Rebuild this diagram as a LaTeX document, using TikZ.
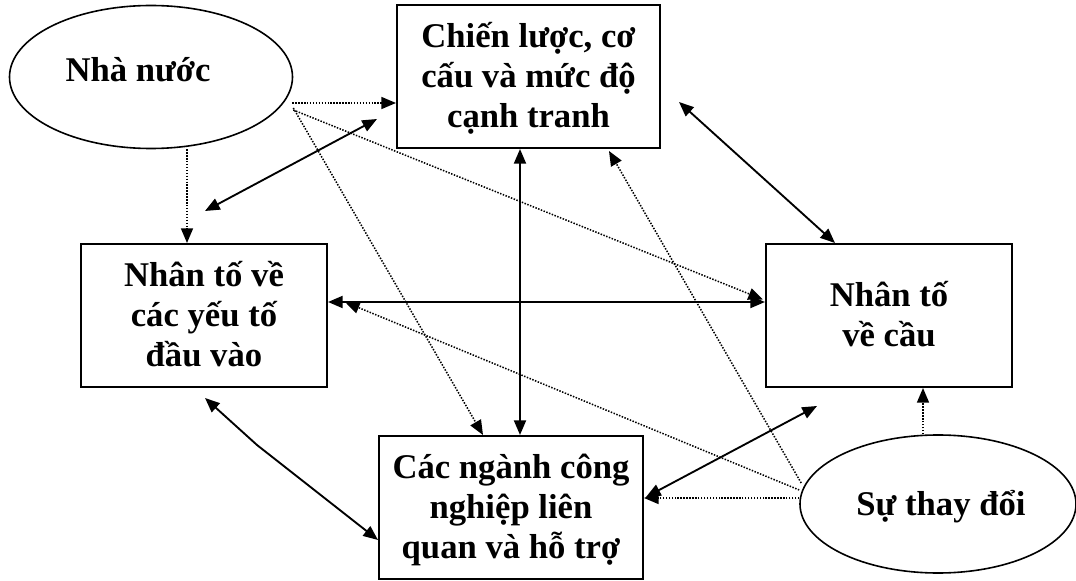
\documentclass[tikz,border=0pt]{standalone}
\usepackage{fontspec}
\setmainfont{Liberation Serif}
\usetikzlibrary{arrows.meta,shapes.geometric}

\begin{document}
\begin{tikzpicture}[
  x=0.75pt, y=-0.75pt,
  headtip/.tip={Triangle[length=11pt, width=9pt]},
  txt/.style={font=\fontsize{26}{30}\selectfont\bfseries, align=center},
  factor/.style={txt, draw, line width=1.5pt, inner sep=0pt, fill=white,
    minimum height=107.25pt, text depth=0pt},
  twolines/.style={text height=47.2pt},
  threelines/.style={text height=77.2pt},
  oval/.style={draw, ellipse, line width=1.2pt, inner sep=0pt},
  link/.style={line width=1.4pt, {headtip}-{headtip}},
  dot/.style={line width=1.15pt, dash pattern=on 1.1pt off 1.1pt, -{headtip}},
]
\useasboundingbox (0,0) rectangle (1076,581);

% actors outside the diamond
\node[oval, minimum width=212.25pt, minimum height=107.25pt] (nn) at (151,77) {};
\node[txt, anchor=base] (nnt) at (138,82) {Nhà nước};
\node[oval, minimum width=207pt, minimum height=103.5pt] (td) at (938,504) {};
\node[txt, anchor=base] (tdt) at (941,515) {Sự thay đổi};

% the four determinants
\node[factor, threelines, minimum width=197.25pt] (cl) at (528.5,76.5)
  {Chiến lược, cơ\\cấu và mức độ\\cạnh tranh};
\node[factor, threelines, minimum width=184.5pt] (dv) at (204,315.5)
  {Nhân tố về\\các yếu tố\\đầu vào};
\node[factor, twolines, minimum width=184.5pt] (cau) at (889,315.5)
  {Nhân tố\\về cầu};
\node[factor, threelines, minimum width=198pt] (ng) at (511,507.5)
  {Các ngành công\\nghiệp liên\\quan và hỗ trợ};

% two-way links between determinants
\draw[link] ([shift={(1,-32)}]dv.north) -- ([shift={(-19,-30)}]cl.south west);
\draw[link] ([shift={(18,25.5)}]cl.east) -- ([shift={(-54,0)}]cau.north);
\draw[link] ([shift={(0,-13.5)}]dv.east) coordinate (h) -- (h -| cau.west);
\draw[link] ([shift={(-8.5,0)}]cl.south) coordinate (v) -- (v |- ng.north);
\coordinate (bend) at (257,445);
\draw[link] ([shift={(1,10)}]dv.south) -- (bend) -- ([shift={(0,32.5)}]ng.west);
\draw[link] ([shift={(2,-10.5)}]ng.east) -- ([shift={(-72,18)}]cau.south);

% influence of the state
\draw[dot] ([shift={(-1,26)}]nn.east) coordinate (a) -- (a -| cl.west);
\draw[dot] ([shift={(36,0)}]nn.south) coordinate (b) -- (b |- dv.north);
\draw[dot] ([shift={(0,33)}]nn.east) -- ([shift={(-2,-16)}]cau.west);
\draw[dot] ([shift={(0,31)}]nn.east) -- ([shift={(-28,0)}]ng.north);

% influence of chance events
\draw[dot] ([shift={(-15,0)}]td.north) coordinate (c) -- (c |- cau.south);
\draw[dot] ([shift={(0,-6)}]td.west) coordinate (d) -- (d -| ng.east);
\draw[dot] ([shift={(0,-14)}]td.west) -- ([shift={(17,-13.5)}]dv.east);
\draw[dot] ([shift={(2,-21)}]td.west) -- ([shift={(80.5,2)}]cl.south);
\end{tikzpicture}
\end{document}
